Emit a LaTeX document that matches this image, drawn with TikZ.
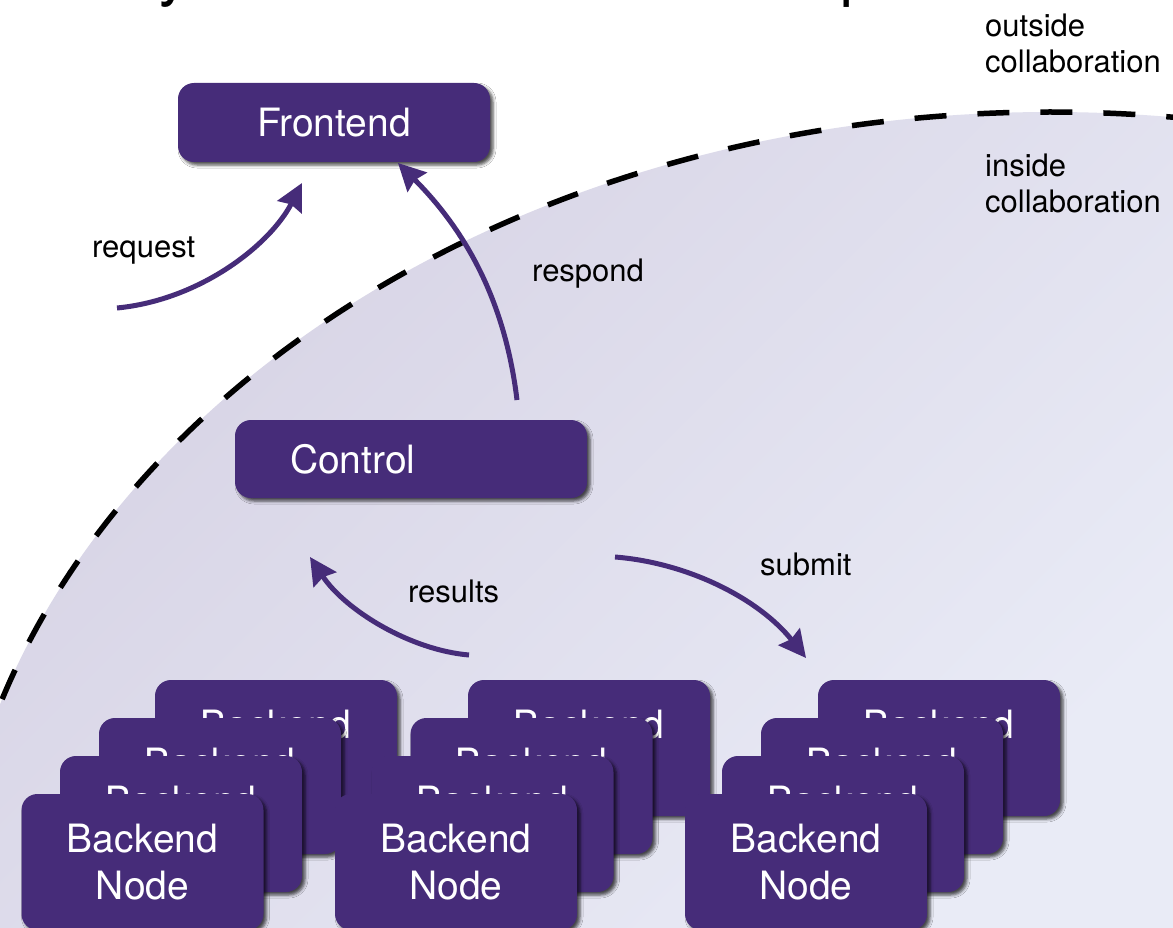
\documentclass[tikz,border=0pt]{standalone}
\usepackage{fontspec}
\setmainfont{TeX Gyre Heros}
\usetikzlibrary{arrows.meta,shadows.blur}
\definecolor{purp}{RGB}{70,44,121}
\definecolor{bgA}{RGB}{214,210,228}
\definecolor{bgB}{RGB}{233,235,246}
\tikzset{
  box/.style={fill=purp, rounded corners=16pt, text=white, inner sep=0pt,
    font=\fontsize{39}{47}\selectfont,
    blur shadow={shadow xshift=3pt, shadow yshift=-3pt,
                 shadow blur radius=3pt, shadow opacity=70}},
  backend/.style={box, minimum width=242pt, minimum height=136pt, align=center},
  flow/.style={draw=purp, line width=5pt,
    -{Stealth[length=27pt,width=27pt,inset=3pt]}},
  lbl/.style={font=\fontsize{31}{36}\selectfont, inner sep=0pt, text=black},
  titlefrag/.style={font=\fontsize{64}{64}\selectfont, inner sep=0pt, anchor=base west},
}
\begin{document}
\begin{tikzpicture}[x=1pt,y=-1pt]
\useasboundingbox (0,0) rectangle (1173,928);
\begin{scope}
\clip (0,0) rectangle (1173,928);
\fill[white] (0,0) rectangle (1173,928);

% title line above the frame, only its descenders reach down here
\node[titlefrag] (ty) at (158,-6) {y};
\node[titlefrag] (tp) at (840,-6) {p};

% collaboration region
\begin{scope}
  \clip (1050,957) ellipse [x radius=1100pt, y radius=845pt];
  \shade[shading=axis, top color=bgA, bottom color=bgB, shading angle=45]
    (0,100) rectangle (1173,940);
\end{scope}
\draw[line width=5.5pt, dash pattern=on 32pt off 31pt]
  (1050,957) ellipse [x radius=1100pt, y radius=845pt];

\node[lbl, anchor=north west, align=left] (outlbl) at (985,14) {outside\\collaboration};
\node[lbl, anchor=north west, align=left] (inlbl) at (985,154) {inside\\collaboration};

% frontend and control
\node[box, minimum width=312pt, minimum height=79pt] (front) at (334,122.5) {Frontend};
\node[box, text width=242pt, inner xsep=55pt, minimum height=78pt, align=left]
  (control) at (411,459) {Control};

% backend node stacks, drawn back to front
\node[backend] (a4) at (276,748) {Backend\\Node};
\node[backend] (b4) at (589,748) {Backend\\Node};
\node[backend] (c4) at (939,748) {Backend\\Node};
\node[backend] (a3) at (220,786) {Backend\\Node};
\node[backend] (b3) at (531.5,786) {Backend\\Node};
\node[backend] (c3) at (882,786) {Backend\\Node};
\node[backend] (a2) at (181,824) {Backend\\Node};
\node[backend] (b2) at (492.5,824) {Backend\\Node};
\node[backend] (c2) at (843,824) {Backend\\Node};
\node[backend] (a1) at (142.5,862) {Backend\\Node};
\node[backend] (b1) at (456,862) {Backend\\Node};
\node[backend] (c1) at (806,862) {Backend\\Node};

% message flows
\coordinate (rqS) at (117,308);
\coordinate (rqE) at (302,183);
\coordinate (rsS) at (517,400);
\coordinate (rsE) at (398,163);
\coordinate (reS) at (469,655);
\coordinate (reE) at (310,557);
\coordinate (suS) at (615,557);
\coordinate (suE) at (806,658);

\draw[flow] (rqS) .. controls (200,300) and (270,245) .. (rqE);
\draw[flow] (rsS) .. controls (505,300) and (465,230) .. (rsE);
\draw[flow] (reS) .. controls (410,650) and (345,610) .. (reE);
\draw[flow] (suS) .. controls (690,563) and (760,600) .. (suE);

\node[lbl, anchor=base west] (reqlbl) at (92,258) {request};
\node[lbl, anchor=base west] (reslbl) at (532,282) {respond};
\node[lbl, anchor=base west] (rltlbl) at (408,602) {results};
\node[lbl, anchor=base west] (sublbl) at (760,575) {submit};
\end{scope}
\end{tikzpicture}
\end{document}
